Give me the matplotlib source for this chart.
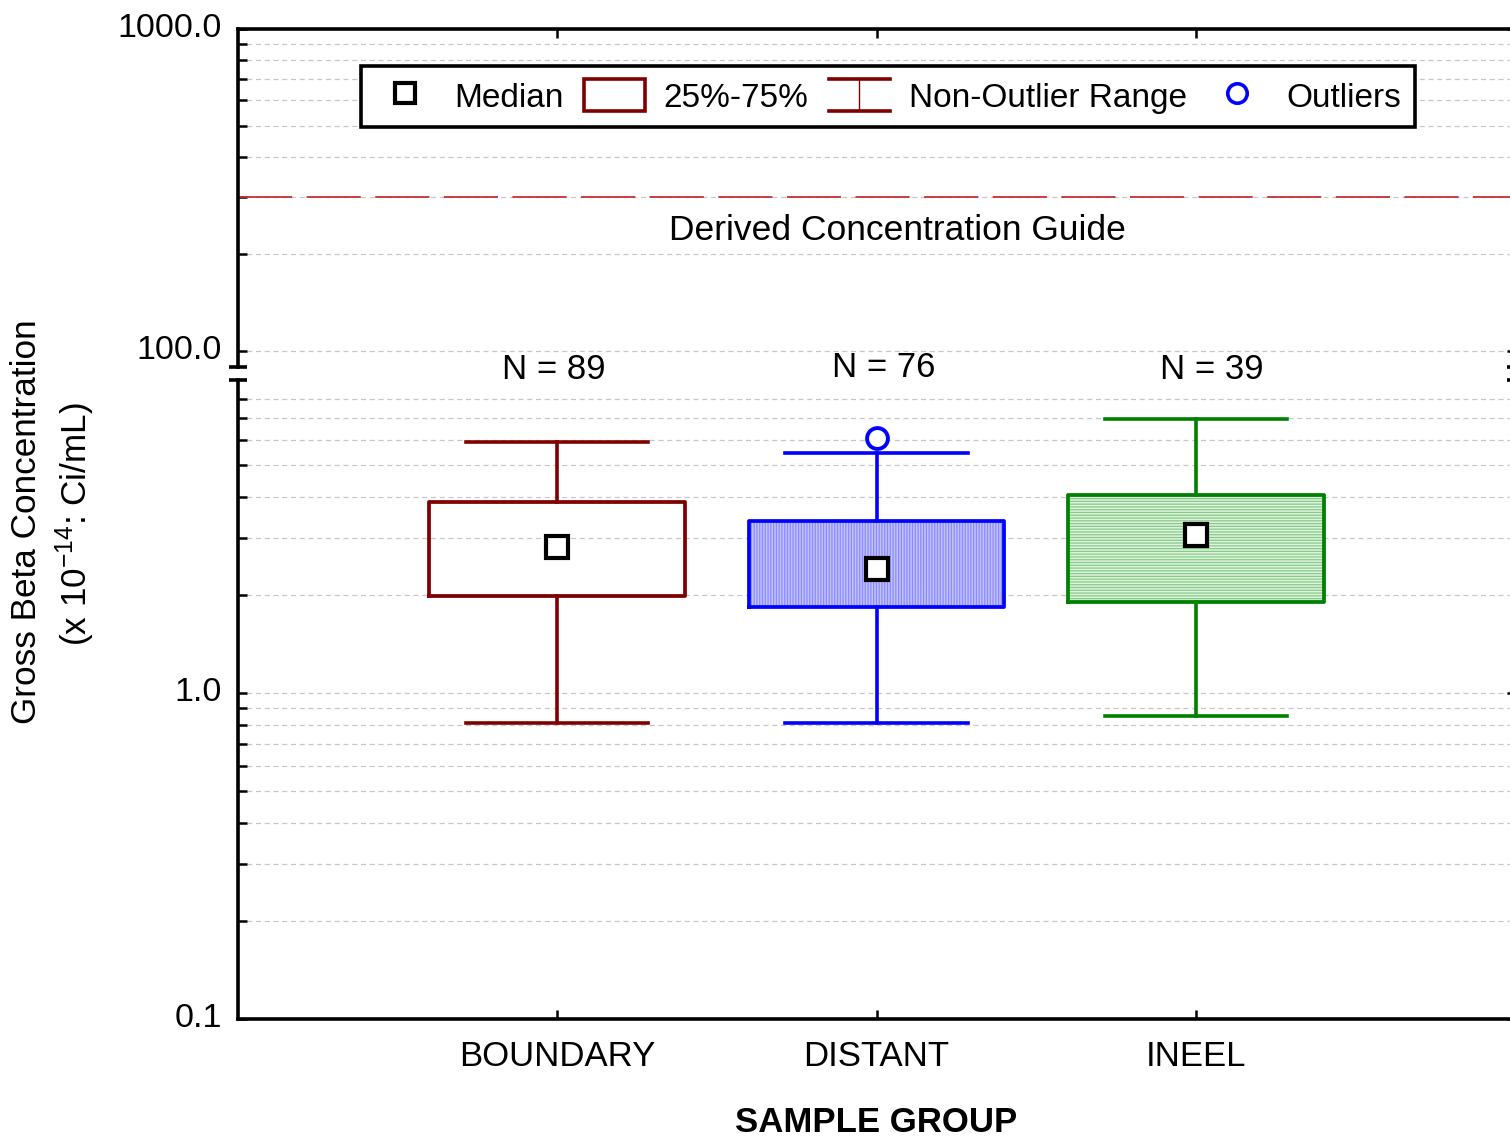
import matplotlib
matplotlib.use('Agg')
import matplotlib.pyplot as plt
from matplotlib.lines import Line2D
from matplotlib.patches import Patch, Rectangle
from matplotlib.legend_handler import HandlerBase
from matplotlib.ticker import FixedLocator, FormatStrFormatter, NullFormatter
from matplotlib.transforms import ScaledTranslation

plt.rcParams['font.family'] = ['Liberation Sans', 'DejaVu Sans']
plt.rcParams['mathtext.fontset'] = 'custom'
plt.rcParams['mathtext.rm'] = 'Liberation Sans'
plt.rcParams['mathtext.default'] = 'regular'
plt.rcParams['hatch.linewidth'] = 0.9

# Box statistics per sample group (x 10^-14 uCi/mL)
groups = ['BOUNDARY', 'DISTANT', 'INEEL']
counts = [89, 76, 39]
medians = [2.81, 2.40, 3.06]
q1 = [1.99, 1.84, 1.90]
q3 = [3.87, 3.38, 4.07]
whisker_lo = [0.81, 0.81, 0.85]
whisker_hi = [5.91, 5.47, 6.94]
outliers = [[], [6.08], []]
dcg = 300.0

line_colors = ['#800000', '#0000ff', '#008000']
fill_colors = ['white', '#c2c2ff', '#e0f2e0']
hatch_colors = ['white', '#8a8aff', '#86cc86']
hatches = [None, '||||||', '------']

FS = 25

fig = plt.figure(figsize=(15.1, 11.37), dpi=100)
# broken y axis: upper panel holds the DCG, lower panel the data
ax_up = fig.add_axes([0.1573, 0.6775, 0.8464, 0.2970])
ax_lo = fig.add_axes([0.1573, 0.1035, 0.8464, 0.5623])

positions = [1, 2, 3]
for i, pos in enumerate(positions):
    c = line_colors[i]
    if hatches[i]:
        ax_lo.add_patch(Rectangle((pos - 0.4, q1[i]), 0.8, q3[i] - q1[i],
                                  facecolor=fill_colors[i], edgecolor=hatch_colors[i],
                                  hatch=hatches[i], lw=0, zorder=2))
    stats = [dict(med=medians[i], q1=q1[i], q3=q3[i],
                  whislo=whisker_lo[i], whishi=whisker_hi[i], fliers=outliers[i])]
    ax_lo.bxp(stats, positions=[pos], widths=0.8, capwidths=0.57, manage_ticks=False,
              boxprops=dict(color=c, lw=2.7),
              whiskerprops=dict(color=c, lw=2.6),
              capprops=dict(color=c, lw=2.6),
              medianprops=dict(visible=False),
              flierprops=dict(marker='o', mfc='white', mec='blue', ms=15, mew=2.8, ls='none'),
              zorder=3)

ax_lo.plot(positions, medians, ls='none', marker='s', ms=16, mfc='white',
           mec='black', mew=3.0, zorder=5)

for i, pos in enumerate(positions):
    dy = 1.0203 if counts[i] == 76 else 1.0157
    dx = [-0.011, 0.022, 0.049][i]
    ax_lo.text(pos + dx, dy, f'N = {counts[i]}', transform=ax_lo.get_xaxis_transform(),
               ha='center', va='center', fontsize=FS)

# derived concentration guide
ax_up.axhline(dcg, color='#c83030', lw=1.3, ls=(0, (30, 8)), zorder=2)
ax_up.text(2.064, 0.402, 'Derived Concentration Guide', transform=ax_up.get_xaxis_transform(),
           ha='center', va='center', fontsize=FS + 0.5)

for ax in (ax_up, ax_lo):
    ax.set_yscale('log')
    ax.set_xlim(0, 4)
    ax.set_xticks(positions)
    ax.yaxis.set_major_formatter(FormatStrFormatter('%.1f'))
    ax.yaxis.set_minor_formatter(NullFormatter())
    ax.tick_params(which='both', direction='in', length=6.5, width=1.8, labelsize=24.5, pad=11)
    ax.tick_params(axis='y', which='major', right=True)
    ax.grid(True, which='both', axis='y', color='#c8c8c8', ls=(0, (4, 3)), lw=0.9)
    ax.set_axisbelow(True)
    for s in ax.spines.values():
        s.set_linewidth(2.6)

ax_up.set_ylim(89.4, 1000)
ax_lo.set_ylim(0.1, 9.14)
ax_up.yaxis.set_major_locator(FixedLocator([100, 1000]))
ax_up.yaxis.set_minor_locator(FixedLocator([200, 300, 400, 500, 600, 700, 800, 900]))
ax_lo.yaxis.set_major_locator(FixedLocator([0.1, 1.0]))
ax_lo.yaxis.set_minor_locator(FixedLocator([0.2, 0.3, 0.4, 0.5, 0.6, 0.7, 0.8, 0.9,
                                            2, 3, 4, 5, 6, 7, 8]))

ax_up.spines['bottom'].set_visible(False)
ax_lo.spines['top'].set_visible(False)
ax_up.tick_params(axis='x', top=True, bottom=False, labelbottom=False)
ax_lo.tick_params(axis='x', labelsize=FS, pad=15)
ax_lo.set_xticklabels(groups)
ax_lo.set_xlabel('SAMPLE GROUP', fontsize=FS, fontweight='bold', labelpad=24)

# y tick labels sit a little above their ticks
lift = ScaledTranslation(0, 4 / 100, fig.dpi_scale_trans)
for ax in (ax_up, ax_lo):
    for lbl in ax.get_yticklabels():
        lbl.set_transform(lbl.get_transform() + lift)

# break marks on both spines
d = 9 / 1278
for ax, yb in ((ax_up, 0), (ax_lo, 1)):
    for xb in (0, 1):
        ax.plot([xb - d, xb + d], [yb, yb], transform=ax.transAxes, color='black',
                lw=2.6, clip_on=False, solid_capstyle='butt')

fig.text(27 / 1510, 1 - 522 / 1137, 'Gross Beta Concentration', rotation=90,
         ha='center', va='center', fontsize=FS + 0.3)
fig.text(75 / 1510, 1 - 524 / 1137, '(x 10$^{-14}$: Ci/mL)', rotation=90,
         ha='center', va='center', fontsize=FS + 0.3)


class HandlerRange(HandlerBase):
    def create_artists(self, legend, orig_handle, xdescent, ydescent, width, height,
                       fontsize, trans):
        c = orig_handle.get_color()
        x0, x1 = -xdescent, -xdescent + width
        y0, y1 = -ydescent, -ydescent + height
        xm = (x0 + x1) / 2
        parts = [Line2D([x0, x1], [y1, y1], lw=2.6), Line2D([x0, x1], [y0, y0], lw=2.6),
                 Line2D([xm, xm], [y0, y1], lw=1.0)]
        for p in parts:
            p.set_color(c)
            p.set_transform(trans)
        return parts


median_h = Line2D([], [], ls='none', marker='s', ms=15, mfc='white', mec='black', mew=3.0)
box_h = Patch(facecolor='white', edgecolor='#800000', lw=2.6)
range_h = Line2D([], [], color='#800000')
out_h = Line2D([], [], ls='none', marker='o', ms=14, mfc='white', mec='blue', mew=2.6)

leg = ax_up.legend([median_h, box_h, range_h, out_h],
                   ['Median', '25%-75%', 'Non-Outlier Range', 'Outliers'],
                   handler_map={range_h: HandlerRange()}, ncol=4, loc='upper left',
                   bbox_to_anchor=(361 / 1510, 1 - 66 / 1137), bbox_transform=fig.transFigure,
                   fontsize=24, fancybox=False, edgecolor='black', framealpha=1,
                   handlelength=1.85, handleheight=1.1, handletextpad=0.55,
                   columnspacing=0.6, borderpad=0.4, borderaxespad=0)
leg.get_frame().set_linewidth(2.6)

fig.savefig('out.png', dpi=100)
